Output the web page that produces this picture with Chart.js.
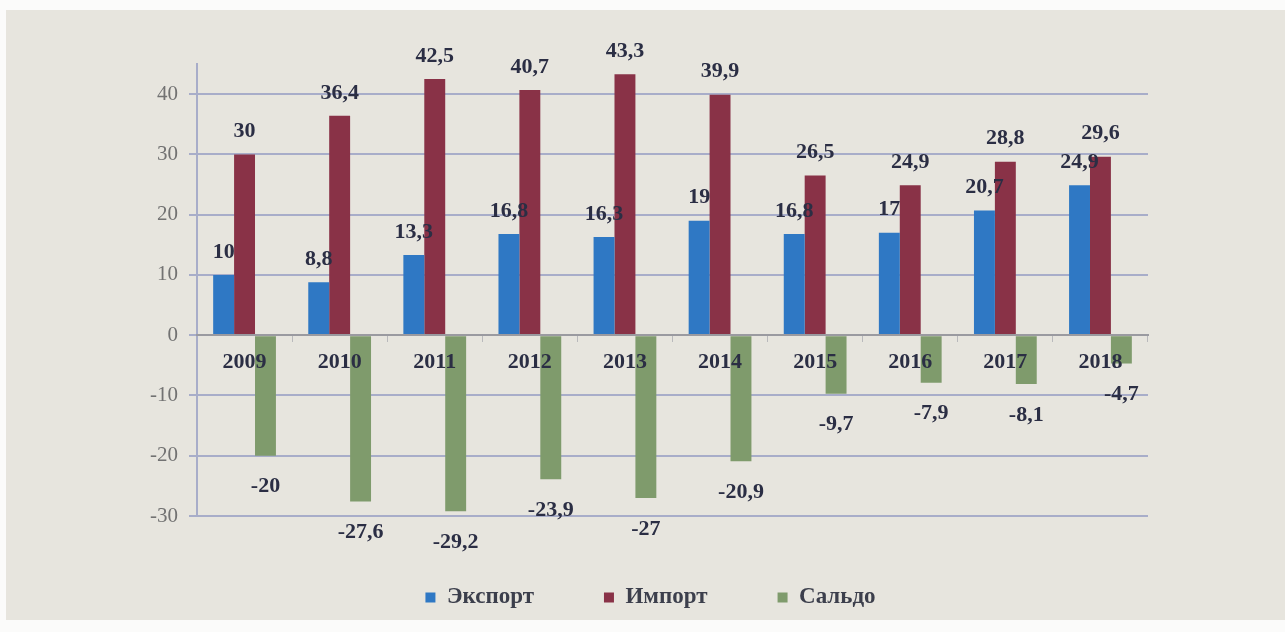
<!DOCTYPE html>
<html>
<head>
<meta charset="utf-8">
<script src="https://cdn.jsdelivr.net/npm/chart.js@4.4.1/dist/chart.umd.min.js"></script>
<style>
  html, body { margin: 0; padding: 0; background: #fbfbfa; }
  #bg { position: absolute; left: 6px; top: 10px; width: 1279px; height: 610px; background: #e7e5de; }
  #c { position: absolute; left: 0; top: 0; }
</style>
</head>
<body>
<div id="bg"></div>
<canvas id="c" width="1285" height="632"></canvas>
<script>
const categories = ['2009','2010','2011','2012','2013','2014','2015','2016','2017','2018'];
const exportValues = [10, 8.8, 13.3, 16.8, 16.3, 19, 16.8, 17, 20.7, 24.9];
const importValues = [30, 36.4, 42.5, 40.7, 43.3, 39.9, 26.5, 24.9, 28.8, 29.6];
const saldoValues = [-20, -27.6, -29.2, -23.9, -27, -20.9, -9.7, -7.9, -8.1, -4.7];
const seriesNames = ['Экспорт', 'Импорт', 'Сальдо'];
const yTicks = [-30, -20, -10, 0, 10, 20, 30, 40];

const SERIF = '"Liberation Serif", "DejaVu Serif", serif';
const labelColor = '#2b2e44';

const dataLabels = {
  id: 'dataLabels',
  afterDatasetsDraw(chart) {
    const ctx = chart.ctx;
    ctx.save();
    ctx.font = 'bold 22px ' + SERIF;
    ctx.fillStyle = labelColor;
    ctx.textAlign = 'center';
    ctx.textBaseline = 'middle';
    chart.data.datasets.forEach((ds, di) => {
      const meta = chart.getDatasetMeta(di);
      meta.data.forEach((el, i) => {
        const v = ds.data[i];
        const txt = String(v).replace('.', ',');
        const y = v >= 0 ? el.y - 23 : el.y + 31;
        ctx.fillText(txt, el.x, y);
      });
    });
    ctx.restore();
  }
};

new Chart(document.getElementById('c'), {
  type: 'bar',
  data: {
    labels: categories,
    datasets: [
      { label: seriesNames[0], data: exportValues, backgroundColor: '#2f78c4' },
      { label: seriesNames[1], data: importValues, backgroundColor: '#893247' },
      { label: seriesNames[2], data: saldoValues, backgroundColor: '#7f9b6c' }
    ]
  },
  options: {
    responsive: false,
    animation: false,
    categoryPercentage: 0.66,
    barPercentage: 1.0,
    layout: { padding: { left: 16, right: 0, top: 64, bottom: 13 } },
    plugins: {
      tooltip: { enabled: false },
      legend: {
        position: 'bottom',
        labels: {
          boxWidth: 10,
          boxHeight: 10,
          padding: 70,
          color: '#3c3f4c',
          font: { family: SERIF, size: 23, weight: 'bold' }
        }
      }
    },
    scales: {
      x: {
        position: { y: 0 },
        afterFit: s => { s.height = 0; },
        grid: { drawOnChartArea: false, drawTicks: true, tickLength: 6, color: '#b9b9bc', offset: true },
        border: { display: true, color: '#9a9aa0', width: 2, z: 1 },
        ticks: {
          z: 1,
          color: labelColor,
          padding: 8,
          font: { family: SERIF, size: 22, weight: 'bold' }
        }
      },
      y: {
        min: -30,
        max: 45,
        afterFit: s => { s.width = 181; },
        afterBuildTicks: s => { s.ticks = yTicks.map(v => ({ value: v })); },
        grid: { color: '#a8adc9', lineWidth: 2, tickLength: 8 },
        border: { display: true, color: '#a8adc9', width: 2 },
        ticks: {
          color: '#727272',
          padding: 11,
          font: { family: SERIF, size: 21 }
        }
      },
      yRight: {
        type: 'linear',
        position: 'right',
        afterFit: s => { s.width = 137; },
        grid: { display: false, drawTicks: false },
        border: { display: false },
        ticks: { display: false }
      }
    }
  },
  plugins: [dataLabels]
});
</script>
</body>
</html>
